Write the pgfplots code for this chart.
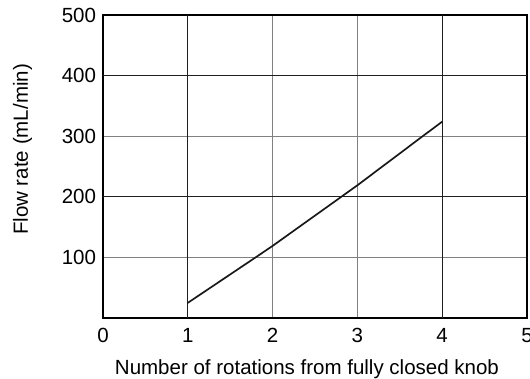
\documentclass[border=0pt]{standalone}
\usepackage{fontspec}
\setmainfont{Liberation Sans}
\usepackage{pgfplots}
\pgfplotsset{compat=1.18}
\begin{document}
\fontsize{20.5}{24}\selectfont
\begin{tikzpicture}
\begin{axis}[
  scale only axis,
  width=424pt, height=303pt,
  xmin=0, xmax=5, ymin=0, ymax=500,
  xtick={0,1,2,3,4,5},
  ytick={100,200,300,400,500},
  /pgf/number format/assume math mode=true,
  tick label style={font=\fontsize{20.5}{24}\selectfont},
  label style={font=\fontsize{20.5}{24}\selectfont},
  major tick length=0pt,
  grid=major,
  major grid style={line width=0.8pt, draw=black!50},
  extra x ticks={1,4},
  extra y ticks={200,400},
  extra x tick labels={},
  extra y tick labels={},
  extra tick style={grid=major, major grid style={line width=0.8pt, draw=black!88}},
  axis line style={line width=1.8pt},
  xlabel={Number of rotations from fully closed knob},
  ylabel={Flow rate (mL/min)},
  every axis x label/.style={at={(axis description cs:0.481,-0.188)}, anchor=base},
  every axis y label/.style={at={(axis description cs:-0.177,0.556)}, anchor=base, rotate=90},
  xticklabel style={yshift=-3pt},
  clip=false,
]
\addplot[black!90, line width=1.7pt] coordinates {
  (1,25) (1.81,101) (2,119) (2.81,200) (3,219) (3.77,300) (4,324)
};
\end{axis}
\pgfresetboundingbox
\path[use as bounding box] (current axis.south west) ++(-103pt,-60pt) rectangle ++(530pt,378pt);
\end{tikzpicture}
\end{document}
